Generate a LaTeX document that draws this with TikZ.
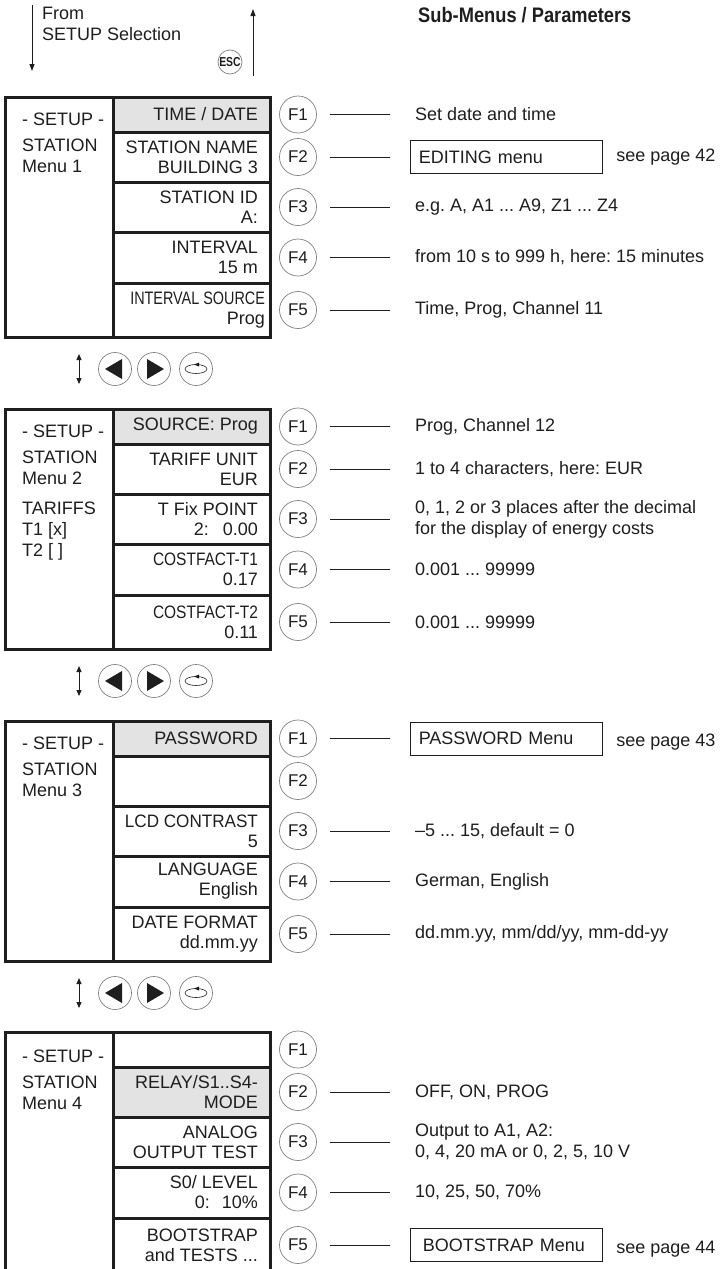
\documentclass[tikz,border=0pt]{standalone}
\usepackage{fontspec}
\setmainfont{Liberation Sans}
\frenchspacing
\usetikzlibrary{arrows.meta,positioning,shapes,calc}
\definecolor{ink}{HTML}{1E1E1E}
\definecolor{keygray}{HTML}{808080}
\definecolor{selgray}{HTML}{E3E3E3}
\tikzset{
  frame/.style={draw=ink, line width=3pt},
  celltext/.style={align=right, inner sep=0pt, font=\fontsize{18}{20}\selectfont, text=ink},
  sidetext/.style={anchor=north west, align=left, inner sep=0pt,
    font=\fontsize{18}{21}\selectfont, text=ink},
  fkey/.style={draw=keygray, line width=0.7pt, circle, minimum size=37pt,
    inner sep=0pt, font=\fontsize{17}{17}\selectfont, text=ink},
  navkey/.style={draw=keygray, line width=0.7pt, circle, minimum size=33pt, inner sep=0pt},
  esckey/.style={draw=keygray, line width=0.7pt, circle, minimum size=24pt,
    inner sep=0pt, font=\fontsize{13}{13}\selectfont\bfseries, text=ink},
  desc/.style={align=left, inner sep=0pt, font=\fontsize{18}{21}\selectfont, text=ink},
  pagebox/.style={draw=ink, line width=0.8pt, minimum width=192pt, minimum height=33pt,
    text width=176pt, inner sep=8pt, align=left, font=\fontsize{18}{20}\selectfont, text=ink},
  headline/.style={anchor=west, inner sep=0pt, font=\fontsize{21}{24}\selectfont\bfseries, text=ink},
  leader/.style={draw=ink, line width=0.8pt, shorten <=13pt},
  flow/.style={draw=ink, line width=1pt, -{Triangle[length=7pt,width=5pt]}},
  navarrow/.style={draw=ink, line width=1pt,
    arrows={Triangle[length=6pt,width=5pt]-Triangle[length=6pt,width=5pt]}}
}
\begin{document}
\begin{tikzpicture}[x=1pt,y=-1pt]
\useasboundingbox (0,0) rectangle (720,1269);

% way in from the setup selection, way back with ESC
\coordinate (intop) at (32,5);
\coordinate (inend) at (32,71);
\coordinate (escfoot) at (253,76);
\coordinate (esctip) at (253,9);
\draw[flow] (intop) -- (inend);
\draw[flow] (escfoot) -- (esctip);
\node[sidetext] (fromsel) at (42,7) {From\\SETUP Selection};
\node[esckey] (esc) at (230,62) {\scalebox{0.8}[1]{ESC}};
\node[headline] (subhead) at (418,15) {\scalebox{0.87}[1]{Sub-Menus / Parameters}};

% selected rows
\fill[selgray] (113,97) rectangle (270,132);
\fill[selgray] (113,409) rectangle (270,444);
\fill[selgray] (113,721) rectangle (270,756);
\fill[selgray] (113,1067) rectangle (270,1117);

% menu frames and function keys
\foreach \m/\mtop in {1/97,2/409,3/721,4/1032}{
  \draw[frame] (5,\mtop) rectangle (270,\mtop+240);
  \draw[frame] (113,\mtop) -- (113,\mtop+240);
  \foreach \dy in {35,85,135,186}
    \draw[frame] (113,\mtop+\dy) -- (270,\mtop+\dy);
  \foreach \k/\dy in {1/17.5,2/60,3/110,4/160.5,5/213}
    \node[fkey] (f\m-\k) at (298,\mtop+\dy) {F\k};
}

% scroll keys between the menus
\foreach \m/\ny in {1/369,2/681,3/993}{
  \coordinate (updn\m) at (79,\ny);
  \draw[navarrow] ([yshift=15pt]updn\m) -- ([yshift=-15pt]updn\m);
  \node[navkey] (prev\m) at (115,\ny) {};
  \node[navkey] (next\m) at (154,\ny) {};
  \node[navkey] (enter\m) at (196,\ny) {};
  \fill[ink] ([xshift=-10pt]prev\m.center) -- ++(17pt,10pt) -- ++(0,-20pt) -- cycle;
  \fill[ink] ([xshift=10pt]next\m.center) -- ++(-17pt,10pt) -- ++(0,-20pt) -- cycle;
  \draw[ink, line width=0.6pt] (enter\m.center) ellipse [x radius=11pt, y radius=4.5pt];
  \fill[ink] ([xshift=-2pt,yshift=4.5pt]enter\m.center) -- ++(5pt,2pt) -- ++(0,-4pt) -- cycle;
}

% menu 1
\node[sidetext] (side1) at (22,113) {- SETUP -\\[5pt]STATION\\Menu 1};
\node[celltext, left=21pt of f1-1] (c1-1) {TIME / DATE};
\node[celltext, left=21pt of f1-2] (c1-2) {STATION NAME\\BUILDING 3};
\node[celltext, left=21pt of f1-3] (c1-3) {STATION ID\\A:};
\node[celltext, left=21pt of f1-4] (c1-4) {INTERVAL\\15 m};
\node[celltext, left=14pt of f1-5] (c1-5) {\scalebox{0.8}[1]{INTERVAL SOURCE}\\Prog\hspace{7pt}};
\node[desc, right=98pt of f1-1] (d1-1) {Set date and time};
\node[pagebox, right=93.5pt of f1-2] (d1-2) {EDITING menu};
\node[desc, right=13pt of d1-2] (p1-2) {see page 42};
\node[desc, right=98pt of f1-3] (d1-3) {e.g. A, A1 ... A9, Z1 ... Z4};
\node[desc, right=98pt of f1-4] (d1-4) {from 10 s to 999 h, here: 15 minutes};
\node[desc, right=98pt of f1-5] (d1-5) {Time, Prog, Channel 11};

% menu 2
\node[sidetext] (side2) at (22,425) {- SETUP -\\[5pt]STATION\\Menu 2\\[9pt]TARIFFS\\T1 [x]\\T2 [ ]};
\node[celltext, left=21pt of f2-1] (c2-1) {SOURCE: Prog};
\node[celltext, left=21pt of f2-2] (c2-2) {TARIFF UNIT\\EUR};
\node[celltext, left=21pt of f2-3] (c2-3) {T Fix POINT\\2:\hspace{14pt}0.00};
\node[celltext, left=21pt of f2-4] (c2-4) {\scalebox{0.86}[1]{COSTFACT-T1}\\0.17};
\node[celltext, left=21pt of f2-5] (c2-5) {\scalebox{0.86}[1]{COSTFACT-T2}\\0.11};
\node[desc, right=98pt of f2-1] (d2-1) {Prog, Channel 12};
\node[desc, right=98pt of f2-2] (d2-2) {1 to 4 characters, here: EUR};
\node[desc, right=98pt of f2-3] (d2-3) {0, 1, 2 or 3 places after the decimal\\for the display of energy costs};
\node[desc, right=98pt of f2-4] (d2-4) {0.001 ... 99999};
\node[desc, right=98pt of f2-5] (d2-5) {0.001 ... 99999};

% menu 3
\node[sidetext] (side3) at (22,737) {- SETUP -\\[5pt]STATION\\Menu 3};
\node[celltext, left=21pt of f3-1] (c3-1) {PASSWORD};
\node[celltext, left=21pt of f3-3] (c3-3) {\scalebox{0.95}[1]{LCD CONTRAST}\\5};
\node[celltext, left=21pt of f3-4] (c3-4) {LANGUAGE\\English};
\node[celltext, left=21pt of f3-5] (c3-5) {DATE FORMAT\\dd.mm.yy};
\node[pagebox, right=93.5pt of f3-1] (d3-1) {PASSWORD Menu};
\node[desc, right=13pt of d3-1, yshift=-4pt] (p3-1) {see page 43};
\node[desc, right=98pt of f3-3] (d3-3) {–5 ... 15, default = 0};
\node[desc, right=98pt of f3-4] (d3-4) {German, English};
\node[desc, right=98pt of f3-5] (d3-5) {dd.mm.yy, mm/dd/yy, mm-dd-yy};

% menu 4
\node[sidetext] (side4) at (22,1050) {- SETUP -\\[5pt]STATION\\Menu 4};
\node[celltext, left=21pt of f4-2] (c4-2) {RELAY/S1..S4-\\MODE};
\node[celltext, left=21pt of f4-3] (c4-3) {ANALOG\hspace{6pt}\\OUTPUT TEST};
\node[celltext, left=21pt of f4-4] (c4-4) {S0/ LEVEL\\0:\hspace{12pt}10\%};
\node[celltext, left=21pt of f4-5] (c4-5) {BOOTSTRAP\\and TESTS ...};
\node[desc, right=98pt of f4-2] (d4-2) {OFF, ON, PROG};
\node[desc, right=98pt of f4-3] (d4-3) {Output to A1, A2:\\0, 4, 20 mA or 0, 2, 5, 10 V};
\node[desc, right=98pt of f4-4] (d4-4) {10, 25, 50, 70\%};
\node[pagebox, right=93.5pt of f4-5, text width=168pt, inner xsep=12pt] (d4-5) {BOOTSTRAP Menu};
\node[desc, right=13pt of d4-5, yshift=-4pt] (p4-5) {see page 44};

% leaders from the keys
\foreach \d in {1-1,1-3,1-4,1-5,2-1,2-2,2-3,2-4,2-5,3-3,3-4,3-5,4-2,4-3,4-4}
  \draw[leader, shorten >=25pt] (f\d) -- (d\d);
\foreach \d in {1-2,3-1,4-5}
  \draw[leader, shorten >=20pt] (f\d) -- (d\d);
\end{tikzpicture}
\end{document}
